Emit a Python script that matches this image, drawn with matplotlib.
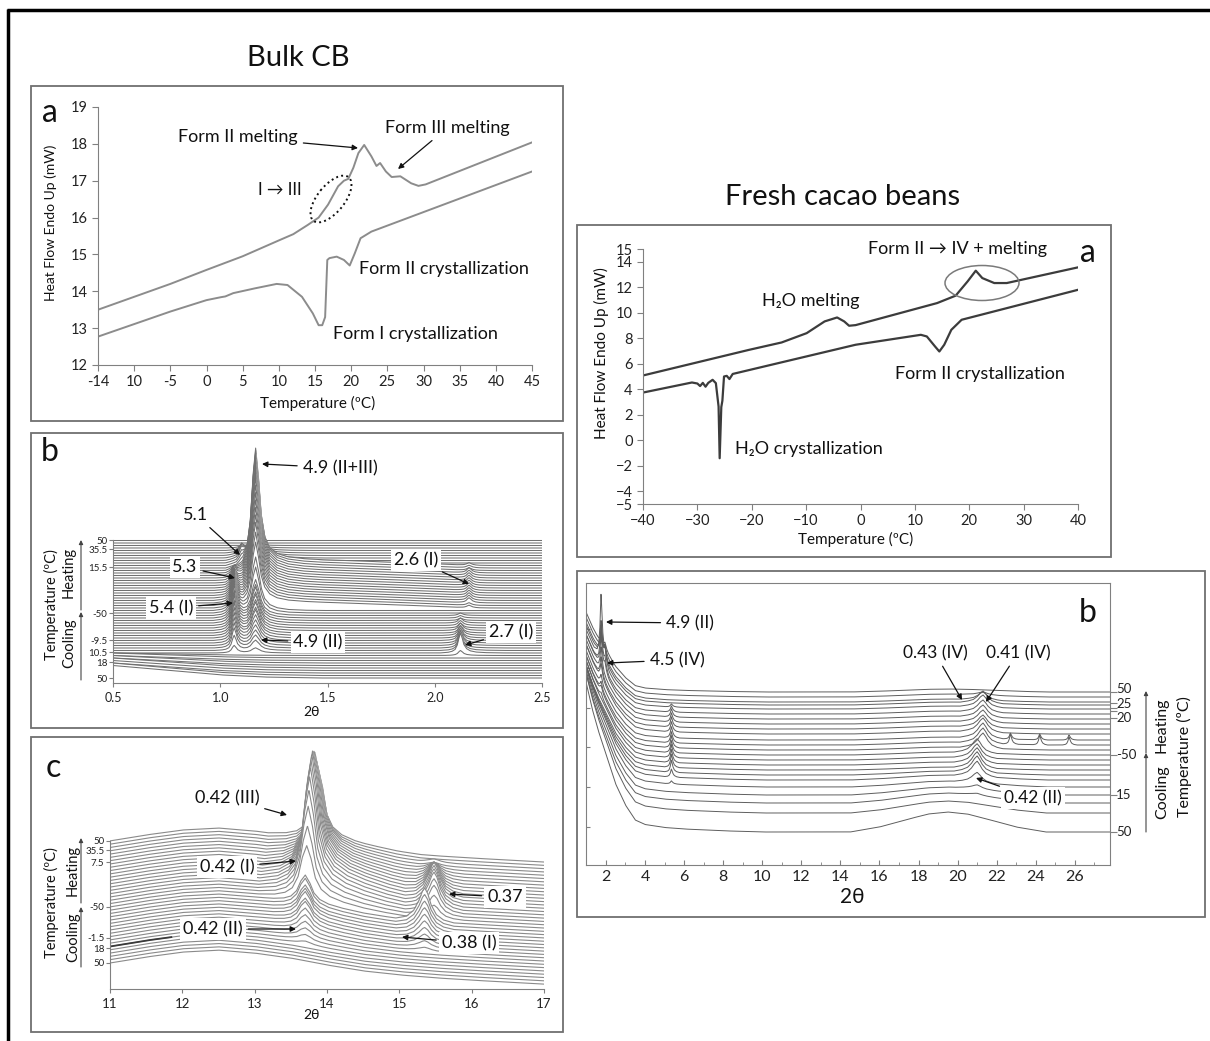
import numpy as np
import matplotlib
matplotlib.use("Agg")
import matplotlib.pyplot as plt
from matplotlib.patches import Rectangle, Ellipse

plt.rcParams['font.family'] = ['Lato', 'DejaVu Sans']

# ---------------- data ----------------
# bulk cocoa butter DSC (left a)
bulk_heat_T = [-15, -5, 0, 5, 10, 12, 14, 15.5, 16.8, 18.2, 19.0, 19.6, 20.3, 21.0, 21.8, 22.8,
               23.5, 24.0, 24.8, 25.6, 26.8, 28.3, 29.3, 30.3, 45]
bulk_heat_hf = [13.5, 14.2, 14.58, 14.95, 15.38, 15.55, 15.8, 16.0, 16.35, 16.85, 17.0, 17.05, 17.35,
                17.75, 17.97, 17.66, 17.4, 17.48, 17.25, 17.1, 17.12, 16.93, 16.86, 16.9, 18.04]
bulk_cool_T = [-15, -5, 0, 2.0, 2.6, 3.7, 6.7, 9.7, 11.2, 13.2, 14.7, 15.5, 16.0, 16.4, 16.7, 17.0,
               18.0, 19.0, 19.8, 20.5, 21.3, 22.8, 45]
bulk_cool_hf = [12.77, 13.45, 13.76, 13.84, 13.86, 13.95, 14.08, 14.2, 14.17, 13.85, 13.4, 13.08, 13.08,
                13.3, 14.85, 14.9, 14.94, 14.85, 14.7, 15.03, 15.44, 15.62, 17.25]
bulk_xticklabels = ['-14', '10', '-5', '0', '5', '10', '15', '20', '25', '30', '35', '40', '45']

# fresh beans DSC (right a)
bean_heat_T = [-40, -20.5, -14.5, -9.9, -6.6, -4.3, -3.0, -2.1, -0.9, 14.1, 17.5, 19.7, 21.2, 22.4,
               24.6, 26.9, 40]
bean_heat_hf = [5.08, 7.09, 7.67, 8.4, 9.32, 9.63, 9.32, 8.98, 9.03, 10.76, 11.34, 12.46, 13.3, 12.72,
                12.33, 12.33, 13.56]
bean_cool_T = [-40, -31, -30, -29.5, -29, -28.5, -28, -27.2, -26.6, -26.1, -25.9, -25.6, -25.4, -25.1,
               -24.6, -24.1, -23.5, -0.9, 11.1, 12.2, 13.7, 14.5, 15.4, 16.7, 18.6, 40]
bean_cool_hf = [3.74, 4.53, 4.45, 4.25, 4.5, 4.2, 4.5, 4.74, 4.48, 2.64, -1.41, 2.6, 3.1, 5.0, 5.05,
                4.8, 5.2, 7.49, 8.27, 8.14, 7.36, 6.96, 7.49, 8.66, 9.45, 11.8]
bean_yticks = [15, 14, 12, 10, 8, 6, 4, 2, 0, -2, -4, -5]

# bulk XRD, SAXS (left b): 56 scans, bottom (cooling from 50) to top (heating to 50)
saxs_main = [0] * 10 + [2, 4, 5, 6, 7, 8, 9, 10, 10, 11, 11, 12, 12, 13, 13, 14] + \
            [18, 21, 24, 27, 30, 32, 34, 36, 38, 40, 42, 43, 44, 45, 46, 47, 47, 47, 44, 39,
             33, 27, 21, 15, 10, 6, 3, 1, 0, 0]
saxs_54 = [0] * 10 + [3, 6, 8, 9, 10, 11, 12, 13, 13, 14, 14, 14, 15, 15, 15, 15] + \
          [15, 15, 14, 14, 13, 12, 11, 10, 9, 8, 7, 6, 5, 5, 4, 3, 2, 1] + [0] * 12
saxs_51 = [0] * 44 + [1, 2, 3, 4, 4, 4, 3, 2, 1] + [0] * 3
saxs_27 = [0] * 9 + [2, 8, 7, 6, 6, 5, 5, 4, 4, 3, 3, 2, 2, 2, 1, 1, 1] + [0] * 30
saxs_26 = [0] * 28 + [1, 1, 2, 2, 2, 2, 2, 2, 2, 2, 2, 2, 2, 2, 2, 1, 1, 1] + [0] * 10
saxs_low = [5, 5, 4, 4, 4, 3, 3, 2, 2, 1] + [0] * 46
saxs_tail = [0] * 28 + [3] * 18 + [0] * 10
saxs_peak_dx = [-0.10, -0.06, -0.04, -0.025, -0.015, -0.007, 0.0, 0.008, 0.016, 0.028, 0.045, 0.07, 0.11, 0.17, 0.25]
saxs_peak_v = [0.0, 0.03, 0.08, 0.18, 0.4, 0.78, 1.0, 0.75, 0.42, 0.22, 0.11, 0.05, 0.02, 0.006, 0.0]
saxs_main_dx = [-0.14, -0.09, -0.06, -0.04, -0.025, -0.012, 0.0, 0.013, 0.026, 0.042, 0.065, 0.1, 0.15, 0.22, 0.3]
saxs_low_x = [0.5, 0.7, 0.9, 1.0, 1.2, 1.45]
saxs_low_v = [1, 0.7, 0.4, 0.25, 0.08, 0]
saxs_tail_x = [1.1, 1.2, 1.5, 1.8, 2.1, 2.2]
saxs_tail_v = [0, 1, 0.75, 0.45, 0.1, 0]
saxs_tick_pos = [55.2, 51.6, 44.4, 26, 15.2, 10.4, 6.4, 0]
saxs_tick_lab = ['50', '35.5', '15.5', '-50', '-9.5', '10.5', '18', '50']

# bulk XRD, WAXS (left c): 38 scans
waxs_bg_x = [11, 11.5, 12, 12.5, 13, 13.5, 14, 14.5, 15, 15.5, 16, 16.5, 17]
waxs_bg_y = [0, 1.8, 3.3, 3.9, 3.0, 1.5, -0.6, -2.4, -3.6, -4.5, -5.2, -5.8, -6.4]
waxs_main = [0, 0, 0, 0, 0, 1, 2, 3, 4, 5, 6, 7, 7, 8, 8, 8, 9, 9] + \
            [17, 22, 27, 31, 34, 36, 37, 38, 38, 37, 36, 35, 33, 31, 29, 27, 25, 23, 21, 19]
waxs_main_pos = [13.70] * 18 + [13.72, 13.73, 13.74, 13.75, 13.76, 13.77, 13.78, 13.79, 13.80, 13.81,
                                13.82, 13.83, 13.84, 13.85, 13.86, 13.87, 13.88, 13.88, 13.88, 13.88]
waxs_037 = [0] * 18 + [4, 6, 8, 9, 10, 10, 10, 10, 9, 8, 7, 6, 5, 4, 3, 2, 1, 1, 0, 0]
waxs_038 = [0] * 8 + [1, 2, 3, 4, 5, 6, 7, 8, 9, 10] + [0] * 20
waxs_peak_dx = [-0.7, -0.45, -0.3, -0.2, -0.12, -0.06, 0, 0.06, 0.12, 0.2, 0.32, 0.5, 0.75, 1.05, 1.4]
waxs_peak_v = [0, 0.04, 0.1, 0.2, 0.42, 0.78, 1, 0.78, 0.45, 0.27, 0.17, 0.11, 0.07, 0.03, 0]
waxs_small_dx = [-0.4, -0.25, -0.15, -0.08, -0.03, 0, 0.04, 0.09, 0.16, 0.26, 0.4]
waxs_small_v = [0, 0.1, 0.3, 0.6, 0.9, 1, 0.85, 0.5, 0.22, 0.07, 0]
waxs_tick_pos = [37, 34.2, 30.6, 17, 7.6, 4.5, 0]
waxs_tick_lab = ['50', '35.5', '7.5', '-50', '-1.5', '18', '50']

# fresh beans XRD (right b): 24 scans, bottom to top
bean_offset = [33, 52, 62, 70, 78, 85, 90, 95, 100, 105, 110, 115, 120, 125, 131, 136, 141, 146,
               151, 156, 160, 163, 168, 173]
bean_low = [150, 140, 130, 125, 120, 115, 110, 105, 100, 100, 95, 95, 90, 90, 90, 85, 85, 85,
            80, 80, 80, 80, 80, 80]
bean_49 = [0, 0, 0, 0, 0, 0, 0, 0, 0, 0, 4, 6, 8, 10, 15, 20, 25, 30, 40, 66, 35, 20, 10, 5]
bean_45 = [0] * 17 + [8, 10, 12, 12, 10, 8, 6]
bean_54 = [0, 0, 0, 0, 3, 8, 12, 13, 13, 13, 12, 12, 11, 11, 10, 10, 9, 8, 6, 3, 0, 0, 0, 0]
bean_210 = [0, 0, 2, 4, 10, 15, 16, 16, 15, 14, 14] + [0] * 13
bean_213 = [0] * 11 + [15, 15, 15, 14, 12, 12, 12, 12, 12, 12, 8, 3, 0]
bean_hump = [20, 12, 10, 8, 6, 5, 4] + [3] * 17
bean_227 = [0] * 12 + [10, 6] + [0] * 10
bean_242 = [0] * 12 + [10, 6] + [0] * 10
bean_257 = [0] * 12 + [8, 5] + [0] * 10
bean_low_x = [0.98, 1.3, 1.6, 2.0, 2.5, 3.0, 3.5, 4.0, 5, 6, 8, 10]
bean_low_v = [1.0, 0.82, 0.68, 0.52, 0.32, 0.18, 0.08, 0.05, 0.03, 0.02, 0.008, 0]
bean_peak_dx = [-0.35, -0.2, -0.12, -0.06, -0.02, 0, 0.03, 0.08, 0.15, 0.25, 0.4]
bean_peak_v = [0, 0.06, 0.18, 0.45, 0.85, 1, 0.8, 0.45, 0.2, 0.07, 0]
bean_wide_dx = [-1.2, -0.8, -0.5, -0.3, -0.15, 0, 0.12, 0.25, 0.45, 0.7, 1.0]
bean_wide_v = [0, 0.1, 0.25, 0.5, 0.8, 1, 0.8, 0.5, 0.22, 0.08, 0]
bean_hump_dx = [-5, -3.5, -2, -1, 0, 1, 2, 3.5, 5]
bean_hump_v = [0, 0.25, 0.65, 0.9, 1, 0.9, 0.65, 0.25, 0]
bean_rtick_pos = [173, 162, 157, 154, 147, 110, 70, 33]
bean_rlab_pos = [176, 161, 147, 110, 70, 33]
bean_rtick_lab = ['50', '25', '20', '-50', '15', '50']

# ---------------- figure ----------------
W, H = 1210, 1041
fig = plt.figure(figsize=(W / 100, H / 100), dpi=100)


def add_ax(x0, y0, x1, y1):
    return fig.add_axes([x0 / W, 1 - y1 / H, (x1 - x0) / W, (y1 - y0) / H])


def peak(x, x0, dx, v):
    return np.interp(x - x0, dx, v, left=0, right=0)


def waterfall(ax, x, curves, color, lw, bottom):
    # back (top) scans first, each one hides what lies under it
    n = len(curves)
    for k, i in enumerate(range(n - 1, -1, -1)):
        z = 1 + k * 0.02
        ax.fill_between(x, curves[i], bottom, color='white', lw=0, zorder=z)
        ax.plot(x, curves[i], color=color, lw=lw, zorder=z + 0.01)


GREY = '#808080'

# ---- left a
ax = add_ax(98, 107, 532, 365)
ax.plot(bulk_heat_T, bulk_heat_hf, color='#8c8c8c', lw=1.4)
ax.plot(bulk_cool_T, bulk_cool_hf, color='#8c8c8c', lw=1.4)
ax.set_xlim(-15, 45)
ax.set_ylim(12, 19)
ax.set_xticks(np.arange(-15, 46, 5))
ax.set_xticklabels(bulk_xticklabels)
ax.set_yticks(range(12, 20))
for s in ['top', 'right']:
    ax.spines[s].set_visible(False)
for s in ['left', 'bottom']:
    ax.spines[s].set_color(GREY)
ax.tick_params(colors=GREY, labelcolor='#222222', labelsize=10.5, length=4)

# ---- left b
ax = add_ax(113, 445, 542, 683)
x = np.linspace(0.5, 2.5, 2001)
curves = []
for i in range(len(saxs_main)):
    y = i + saxs_low[i] * np.interp(x, saxs_low_x, saxs_low_v) \
        + saxs_tail[i] * np.interp(x, saxs_tail_x, saxs_tail_v)
    y = y + saxs_main[i] * peak(x, 1.165, saxs_main_dx, saxs_peak_v)
    y = y + saxs_54[i] * peak(x, 1.065, saxs_peak_dx, saxs_peak_v)
    y = y + saxs_51[i] * peak(x, 1.10, saxs_peak_dx, saxs_peak_v)
    y = y + saxs_27[i] * peak(x, 2.12, saxs_peak_dx, saxs_peak_v)
    y = y + saxs_26[i] * peak(x, 2.16, saxs_peak_dx, saxs_peak_v)
    curves.append(y)
waterfall(ax, x, curves, '#707070', 0.75, -2)
ax.set_xlim(0.5, 2.5)
ax.set_ylim(-2, 93.2)
ax.set_xticks([0.5, 1.0, 1.5, 2.0, 2.5])
ax.set_xticklabels(['0.5', '1.0', '1.5', '2.0', '2.5'])
ax.set_yticks(saxs_tick_pos)
ax.set_yticklabels(saxs_tick_lab)
for s in ['top', 'right']:
    ax.spines[s].set_visible(False)
ax.spines['left'].set_bounds(-2, 55.2)
for s in ['left', 'bottom']:
    ax.spines[s].set_color(GREY)
ax.tick_params(colors=GREY, labelcolor='#222222', length=3)
ax.tick_params(axis='x', labelsize=9)
ax.tick_params(axis='y', labelsize=7, pad=1)

# ---- left c
ax = add_ax(110, 745, 544, 989)
x = np.linspace(11, 17, 1501)
curves = []
for i in range(len(waxs_main)):
    y = i + np.interp(x, waxs_bg_x, waxs_bg_y)
    y = y + waxs_main[i] * peak(x, waxs_main_pos[i], waxs_peak_dx, waxs_peak_v)
    y = y + waxs_037[i] * peak(x, 15.48, waxs_small_dx, waxs_small_v)
    y = y + waxs_038[i] * peak(x, 15.35, waxs_small_dx, waxs_small_v)
    curves.append(y)
waterfall(ax, x, curves, '#8a8a8a', 0.8, -7.9)
seg = x <= 11.85
ax.plot(x[seg], curves[5][seg], color='#3a3a3a', lw=1.3, zorder=2.4)
ax.set_xlim(11, 17)
ax.set_ylim(-7.88, 66.06)
ax.set_xticks(range(11, 18))
ax.set_yticks(waxs_tick_pos)
ax.set_yticklabels(waxs_tick_lab)
for s in ['top', 'right']:
    ax.spines[s].set_visible(False)
ax.spines['left'].set_bounds(-7.88, 37)
for s in ['left', 'bottom']:
    ax.spines[s].set_color(GREY)
ax.tick_params(colors=GREY, labelcolor='#222222', length=3)
ax.tick_params(axis='x', labelsize=9.5)
ax.tick_params(axis='y', labelsize=7, pad=1)

# ---- right a
ax = add_ax(643, 249, 1078, 504)
ax.plot(bean_heat_T, bean_heat_hf, color='#3c3c3c', lw=1.6)
ax.plot(bean_cool_T, bean_cool_hf, color='#3c3c3c', lw=1.6)
ax.set_xlim(-40, 40)
ax.set_ylim(-5, 15)
ax.set_xticks(range(-40, 41, 10))
ax.set_yticks(bean_yticks)
for s in ['top', 'right']:
    ax.spines[s].set_visible(False)
for s in ['left', 'bottom']:
    ax.spines[s].set_color(GREY)
ax.tick_params(colors=GREY, labelcolor='#222222', labelsize=10.5, length=4)

# ---- right b
ax = add_ax(586, 583, 1110, 865)
x = np.linspace(0.98, 27.8, 2800)
for i in range(len(bean_offset)):
    y = bean_offset[i] + bean_low[i] * np.interp(x, bean_low_x, bean_low_v)
    y = y + bean_49[i] * peak(x, 1.75, bean_peak_dx, bean_peak_v)
    y = y + bean_45[i] * peak(x, 1.95, bean_peak_dx, bean_peak_v)
    y = y + bean_54[i] * peak(x, 5.35, bean_peak_dx, bean_peak_v)
    y = y + bean_210[i] * peak(x, 21.0, bean_wide_dx, bean_wide_v)
    y = y + bean_213[i] * peak(x, 21.3, bean_wide_dx, bean_wide_v)
    y = y + bean_hump[i] * peak(x, 19.5, bean_hump_dx, bean_hump_v)
    y = y + bean_227[i] * peak(x, 22.7, bean_peak_dx, bean_peak_v)
    y = y + bean_242[i] * peak(x, 24.2, bean_peak_dx, bean_peak_v)
    y = y + bean_257[i] * peak(x, 25.7, bean_peak_dx, bean_peak_v)
    ax.plot(x, y, color='#5e5e5e', lw=0.7)
ax.set_xlim(0.98, 27.8)
ax.set_ylim(0, 282)
ax.set_xticks(range(2, 27, 2))
ax.set_xticks(range(1, 28), minor=True)
ax.set_yticks([38, 78, 118, 157, 197, 236])
ax.tick_params(axis='y', labelleft=False, direction='in', length=3, colors=GREY)
ax.tick_params(axis='x', which='both', direction='in', colors=GREY, labelcolor='#222222', labelsize=11.5)
ax.tick_params(axis='x', which='minor', length=2)
for s in ax.spines.values():
    s.set_color(GREY)
# right-hand temperature ticks, labels placed on their own so the close ones stay apart
axr = ax.twinx()
axr.set_ylim(0, 282)
axr.set_yticks(bean_rtick_pos)
axr.set_yticklabels([])
for s in axr.spines.values():
    s.set_visible(False)
axr.tick_params(axis='y', direction='out', length=5, colors=GREY)
for p, s in zip(bean_rlab_pos, bean_rtick_lab):
    axr.text(1.012, p, s, transform=axr.get_yaxis_transform(), ha='left', va='center',
             fontsize=9.5, color='#222222')

# ---------------- overlay: frames, titles and notes (pixel coordinates) ----------------
ov = fig.add_axes([0, 0, 1, 1], zorder=10)
ov.set_xlim(0, W)
ov.set_ylim(H, 0)
ov.set_axis_off()

ov.plot([8, 8], [9, H], color='black', lw=2.5, solid_capstyle='butt')
ov.plot([7, W], [10, 10], color='black', lw=2.5, solid_capstyle='butt')
for (x0, y0, x1, y1) in [(31, 86, 563, 421), (31, 433, 563, 728), (31, 737, 563, 1032),
                         (577, 225, 1111, 557), (577, 571, 1205, 917)]:
    ov.add_patch(Rectangle((x0, y0), x1 - x0, y1 - y0, fill=False, ec='#6f6f6f', lw=1.3))


def txt(x, y, s, size=13, **kw):
    ov.text(x, y, s, ha='center', va='center', fontsize=size, color='#111111', **kw)


def note(s, head, center, size=13, white=False):
    bbox = dict(fc='white', ec='none', pad=2) if white else None
    ov.annotate(s, xy=head, xytext=center, ha='center', va='center', fontsize=size,
                color='#111111', bbox=bbox,
                arrowprops=dict(arrowstyle='-|>', color='#111111', lw=0.9,
                                mutation_scale=8, shrinkA=2, shrinkB=0))


def updown(x, y0, y1):
    ov.annotate('', xy=(x, y1), xytext=(x, y0),
                arrowprops=dict(arrowstyle='-|>', color='#444444', lw=0.8,
                                mutation_scale=6, shrinkA=0, shrinkB=0))


txt(298, 58, 'Bulk CB', 21)
txt(843, 197, 'Fresh cacao beans', 21)

# left a
txt(50, 113, 'a', 23)
txt(51, 223, 'Heat Flow Endo Up (mW)', 10, rotation=90)
txt(318, 403, 'Temperature (ºC)', 11)
note('Form II melting', (358, 148), (238, 137))
note('Form III melting', (398, 169), (447, 128))
txt(280, 190, 'I → III', 12)
ov.add_patch(Ellipse((331, 199), 56, 27, angle=-51, fill=False, ec='#111111', lw=1.4, ls=':'))
txt(444, 269, 'Form II crystallization')
txt(415, 334, 'Form I crystallization')

# left b
txt(50, 452, 'b', 23)
txt(51, 605, 'Temperature (ºC)', 10.5, rotation=90)
txt(69, 572, 'Heating', 10.5, rotation=90)
txt(69, 643, 'Cooling', 10.5, rotation=90)
updown(81, 610, 540)
updown(81, 680, 612)
txt(311, 712, '2θ', 10)
note('4.9 (II+III)', (262, 464), (340, 468), white=True)
note('5.1', (240, 555), (196, 515), white=True)
note('5.3', (235, 578), (185, 567), white=True)
note('5.4 (I)', (233, 603), (171, 608), white=True)
note('4.9 (II)', (261, 640), (318, 642), white=True)
note('2.6 (I)', (469, 584), (416, 560), white=True)
note('2.7 (I)', (465, 645), (511, 632), white=True)

# left c
txt(53, 768, 'c', 23)
txt(51, 903, 'Temperature (ºC)', 10.5, rotation=90)
txt(73, 870, 'Heating', 10.5, rotation=90)
txt(73, 937, 'Cooling', 10.5, rotation=90)
updown(81, 903, 838)
updown(81, 967, 907)
txt(311, 1015, '2θ', 10)
note('0.42 (III)', (287, 815), (227, 798), white=True)
note('0.42 (I)', (296, 861), (227, 867), white=True)
note('0.37', (449, 894), (505, 897), white=True)
note('0.42 (II)', (296, 929), (213, 929), white=True)
note('0.38 (I)', (402, 937), (469, 943), white=True)

# right a
txt(1088, 253, 'a', 23)
txt(601, 353, 'Heat Flow Endo Up (mW)', 11, rotation=90)
txt(856, 539, 'Temperature (ºC)', 11)
txt(958, 249, 'Form II → IV + melting')
ov.add_patch(Ellipse((982, 283), 74, 35, fill=False, ec='#7a7a7a', lw=1.1))
txt(811, 301, 'H₂O melting')
txt(980, 374, 'Form II crystallization')
txt(809, 449, 'H₂O crystallization')

# right b
txt(1088, 613, 'b', 23)
txt(852, 897, '2θ', 15)
txt(1162, 725, 'Heating', 11.5, rotation=90)
txt(1162, 792, 'Cooling', 11.5, rotation=90)
txt(1184, 757, 'Temperature (ºC)', 11.5, rotation=90)
updown(1146, 753, 691)
updown(1146, 832, 753)
note('4.9 (II)', (606, 622), (690, 623), 12.5)
note('4.5 (IV)', (607, 663), (677, 660), 12.5)
note('0.43 (IV)', (962, 700), (935, 653), 12.5)
note('0.41 (IV)', (986, 702), (1018, 653), 12.5)
note('0.42 (II)', (976, 778), (1033, 798), 12.5, white=True)

fig.savefig('out.png', dpi=100)
